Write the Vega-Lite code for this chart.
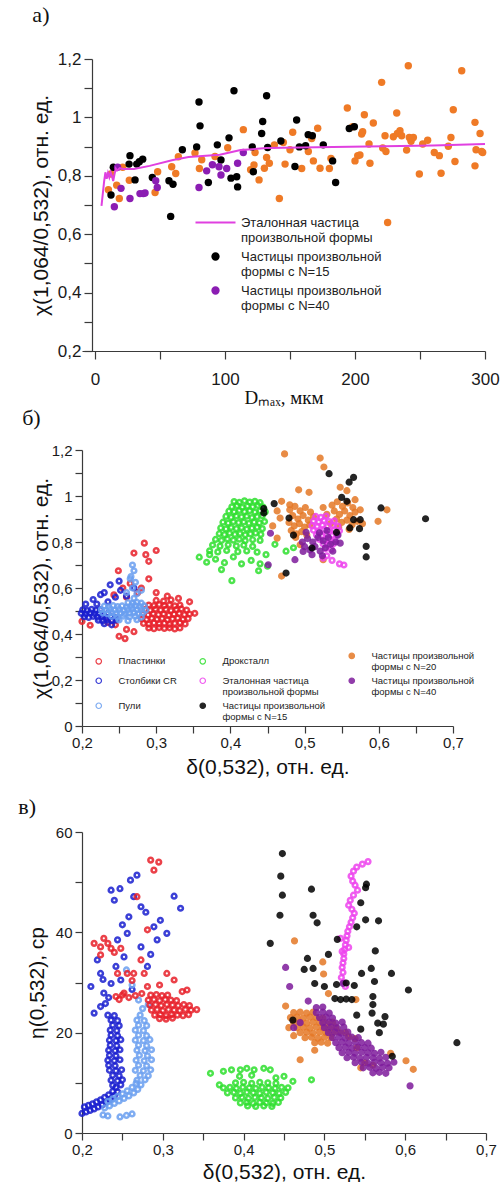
{
"$schema":"https://vega.github.io/schema/vega-lite/v6.json",
"background":"white",
"padding":{"left":18,"top":4,"right":0,"bottom":0},
"spacing":0,
"columns":1,
"config":{"view":{"stroke":null},"axis":{"grid":false,"domainColor":"#3a3a3a","tickColor":"#3a3a3a","labelColor":"#1a1a1a","titleColor":"#111111","labelFont":"Liberation Sans","titleFont":"Liberation Sans","titleFontWeight":"normal","domainWidth":1.2,"tickWidth":1.2,"labelOverlap":false,"labelFlush":false},"title":{"font":"Liberation Serif","fontSize":22,"fontWeight":"normal","anchor":"start","frame":"bounds","color":"#111111"},"legend":{"labelFont":"Liberation Sans","labelColor":"#222222"}},
"resolve":{"scale":{"color":"independent","fill":"independent","stroke":"independent","x":"independent","y":"independent"},"legend":{"color":"independent","fill":"independent","stroke":"independent"}},
"datasets":{
"a_line":[
{"series":"ref","dmax":5,"chi":0.697},{"series":"ref","dmax":7,"chi":0.78},{"series":"ref","dmax":8,"chi":0.812},{"series":"ref","dmax":9,"chi":0.79},{"series":"ref","dmax":10,"chi":0.81},{"series":"ref","dmax":11,"chi":0.795},{"series":"ref","dmax":12,"chi":0.812},{"series":"ref","dmax":13,"chi":0.8},{"series":"ref","dmax":14,"chi":0.782},{"series":"ref","dmax":15,"chi":0.805},{"series":"ref","dmax":16,"chi":0.825},{"series":"ref","dmax":17,"chi":0.818},{"series":"ref","dmax":19,"chi":0.826},{"series":"ref","dmax":22,"chi":0.823},{"series":"ref","dmax":30,"chi":0.823},{"series":"ref","dmax":42,"chi":0.834},{"series":"ref","dmax":60,"chi":0.854},{"series":"ref","dmax":72,"chi":0.864},{"series":"ref","dmax":96,"chi":0.872},{"series":"ref","dmax":112,"chi":0.888},{"series":"ref","dmax":132,"chi":0.895},{"series":"ref","dmax":158,"chi":0.897},{"series":"ref","dmax":183,"chi":0.899},{"series":"ref","dmax":209,"chi":0.9},{"series":"ref","dmax":235,"chi":0.902},{"series":"ref","dmax":260,"chi":0.904},{"series":"ref","dmax":300,"chi":0.909}
],
"a_pts":[
{"series":"N20","dmax":10.3,"chi":0.752},{"series":"N20","dmax":12.3,"chi":0.806},{"series":"N20","dmax":16.7,"chi":0.768},{"series":"N20","dmax":18.7,"chi":0.722},{"series":"N20","dmax":21.3,"chi":0.829},{"series":"N20","dmax":26.4,"chi":0.785},{"series":"N20","dmax":46.2,"chi":0.743},{"series":"N20","dmax":48.2,"chi":0.814},{"series":"N20","dmax":59,"chi":0.831},{"series":"N20","dmax":62.1,"chi":0.808},{"series":"N20","dmax":64.1,"chi":0.865},{"series":"N20","dmax":76.9,"chi":0.878},{"series":"N20","dmax":80.3,"chi":0.825},{"series":"N20","dmax":82.1,"chi":0.855},{"series":"N20","dmax":92.3,"chi":0.866},{"series":"N20","dmax":102.1,"chi":0.896},{"series":"N20","dmax":114.1,"chi":0.958},{"series":"N20","dmax":119.7,"chi":0.821},{"series":"N20","dmax":122.3,"chi":0.837},{"series":"N20","dmax":123.1,"chi":0.88},{"series":"N20","dmax":126.2,"chi":0.786},{"series":"N20","dmax":130.3,"chi":0.826},{"series":"N20","dmax":132,"chi":0.863},{"series":"N20","dmax":134.1,"chi":0.843},{"series":"N20","dmax":138,"chi":0.906},{"series":"N20","dmax":141.8,"chi":0.722},{"series":"N20","dmax":144.9,"chi":0.914},{"series":"N20","dmax":146.2,"chi":0.84},{"series":"N20","dmax":150,"chi":0.889},{"series":"N20","dmax":152.1,"chi":0.949},{"series":"N20","dmax":159,"chi":0.825},{"series":"N20","dmax":164.1,"chi":0.883},{"series":"N20","dmax":166.7,"chi":0.928},{"series":"N20","dmax":168,"chi":0.851},{"series":"N20","dmax":171.3,"chi":0.963},{"series":"N20","dmax":173.1,"chi":0.826},{"series":"N20","dmax":180.3,"chi":0.825},{"series":"N20","dmax":181.5,"chi":0.859},{"series":"N20","dmax":194.1,"chi":1.032},{"series":"N20","dmax":198.2,"chi":0.968},{"series":"N20","dmax":200,"chi":0.851},{"series":"N20","dmax":202.1,"chi":0.869},{"series":"N20","dmax":203.8,"chi":0.871},{"series":"N20","dmax":205.1,"chi":0.943},{"series":"N20","dmax":205.9,"chi":0.951},{"series":"N20","dmax":207.2,"chi":1.009},{"series":"N20","dmax":210.8,"chi":0.909},{"series":"N20","dmax":211.5,"chi":0.843},{"series":"N20","dmax":214.1,"chi":0.981},{"series":"N20","dmax":220.5,"chi":1.12},{"series":"N20","dmax":221.3,"chi":0.895},{"series":"N20","dmax":223.1,"chi":0.937},{"series":"N20","dmax":223.8,"chi":0.883},{"series":"N20","dmax":225.1,"chi":0.64},{"series":"N20","dmax":229.5,"chi":0.934},{"series":"N20","dmax":232.1,"chi":1.015},{"series":"N20","dmax":232.6,"chi":0.945},{"series":"N20","dmax":234.6,"chi":0.954},{"series":"N20","dmax":235.9,"chi":0.937},{"series":"N20","dmax":239.7,"chi":0.888},{"series":"N20","dmax":241,"chi":1.177},{"series":"N20","dmax":241.8,"chi":0.931},{"series":"N20","dmax":243.1,"chi":0.918},{"series":"N20","dmax":244.9,"chi":0.931},{"series":"N20","dmax":249.5,"chi":0.806},{"series":"N20","dmax":252.1,"chi":0.909},{"series":"N20","dmax":255.9,"chi":0.922},{"series":"N20","dmax":261,"chi":0.88},{"series":"N20","dmax":264.9,"chi":0.869},{"series":"N20","dmax":266.2,"chi":0.809},{"series":"N20","dmax":271.8,"chi":0.901},{"series":"N20","dmax":273.8,"chi":0.931},{"series":"N20","dmax":275.6,"chi":1.026},{"series":"N20","dmax":276.9,"chi":0.849},{"series":"N20","dmax":282.1,"chi":1.16},{"series":"N20","dmax":292.3,"chi":0.834},{"series":"N20","dmax":292.3,"chi":0.983},{"series":"N20","dmax":293.1,"chi":0.889},{"series":"N20","dmax":296.2,"chi":0.945},{"series":"N20","dmax":297.4,"chi":0.883},{"series":"N20","dmax":298.2,"chi":0.88},
{"series":"N15","dmax":12.3,"chi":0.734},{"series":"N15","dmax":14.1,"chi":0.829},{"series":"N15","dmax":26.2,"chi":0.84},{"series":"N15","dmax":26.9,"chi":0.869},{"series":"N15","dmax":30.8,"chi":0.786},{"series":"N15","dmax":32.1,"chi":0.84},{"series":"N15","dmax":34.1,"chi":0.848},{"series":"N15","dmax":36.7,"chi":0.857},{"series":"N15","dmax":44.1,"chi":0.794},{"series":"N15","dmax":56.9,"chi":0.783},{"series":"N15","dmax":58.2,"chi":0.661},{"series":"N15","dmax":60,"chi":0.771},{"series":"N15","dmax":67.2,"chi":0.889},{"series":"N15","dmax":78.2,"chi":0.899},{"series":"N15","dmax":80,"chi":1.053},{"series":"N15","dmax":80.8,"chi":0.971},{"series":"N15","dmax":87.2,"chi":0.777},{"series":"N15","dmax":94.1,"chi":0.906},{"series":"N15","dmax":96.9,"chi":0.854},{"series":"N15","dmax":103.1,"chi":0.93},{"series":"N15","dmax":104.6,"chi":0.792},{"series":"N15","dmax":106.9,"chi":1.091},{"series":"N15","dmax":109,"chi":0.797},{"series":"N15","dmax":109.7,"chi":0.762},{"series":"N15","dmax":121,"chi":0.899},{"series":"N15","dmax":121.8,"chi":0.814},{"series":"N15","dmax":128.2,"chi":0.945},{"series":"N15","dmax":129,"chi":0.986},{"series":"N15","dmax":132,"chi":1.074},{"series":"N15","dmax":132.8,"chi":0.897},{"series":"N15","dmax":143,"chi":0.919},{"series":"N15","dmax":153.8,"chi":0.832},{"series":"N15","dmax":155.1,"chi":0.991},{"series":"N15","dmax":157.2,"chi":0.899},{"series":"N15","dmax":162,"chi":0.903},{"series":"N15","dmax":164,"chi":0.941},{"series":"N15","dmax":167.2,"chi":0.937},{"series":"N15","dmax":175.6,"chi":0.906},{"series":"N15","dmax":182.8,"chi":0.851},{"series":"N15","dmax":185.1,"chi":0.777},{"series":"N15","dmax":195.6,"chi":0.962},{"series":"N15","dmax":199.5,"chi":0.968},
{"series":"N40","dmax":14.9,"chi":0.694},{"series":"N40","dmax":17.4,"chi":0.829},{"series":"N40","dmax":20,"chi":0.757},{"series":"N40","dmax":26.9,"chi":0.722},{"series":"N40","dmax":34.6,"chi":0.739},{"series":"N40","dmax":37.2,"chi":0.739},{"series":"N40","dmax":38.5,"chi":0.741},{"series":"N40","dmax":46.7,"chi":0.783},{"series":"N40","dmax":47.9,"chi":0.76},{"series":"N40","dmax":80,"chi":0.76},{"series":"N40","dmax":85.9,"chi":0.817},{"series":"N40","dmax":90.3,"chi":0.838},{"series":"N40","dmax":95.4,"chi":0.831},{"series":"N40","dmax":96.9,"chi":0.803},{"series":"N40","dmax":101.3,"chi":0.825},{"series":"N40","dmax":109.7,"chi":0.843},{"series":"N40","dmax":114.1,"chi":0.88}
],
"b_pts":[
{"series":"droxtal","delta":0.405,"chi":0.976},{"series":"droxtal","delta":0.412,"chi":0.972},{"series":"droxtal","delta":0.419,"chi":0.979},{"series":"droxtal","delta":0.426,"chi":0.974},{"series":"droxtal","delta":0.433,"chi":0.977},{"series":"droxtal","delta":0.44,"chi":0.971},
{"series":"droxtal","delta":0.402,"chi":0.953},{"series":"droxtal","delta":0.409,"chi":0.958},{"series":"droxtal","delta":0.416,"chi":0.951},{"series":"droxtal","delta":0.423,"chi":0.956},{"series":"droxtal","delta":0.43,"chi":0.953},{"series":"droxtal","delta":0.437,"chi":0.959},{"series":"droxtal","delta":0.444,"chi":0.952},
{"series":"droxtal","delta":0.398,"chi":0.934},{"series":"droxtal","delta":0.405,"chi":0.931},{"series":"droxtal","delta":0.412,"chi":0.937},{"series":"droxtal","delta":0.419,"chi":0.932},{"series":"droxtal","delta":0.426,"chi":0.936},{"series":"droxtal","delta":0.433,"chi":0.93},{"series":"droxtal","delta":0.44,"chi":0.935},{"series":"droxtal","delta":0.447,"chi":0.931},
{"series":"droxtal","delta":0.394,"chi":0.911},{"series":"droxtal","delta":0.401,"chi":0.907},{"series":"droxtal","delta":0.408,"chi":0.913},{"series":"droxtal","delta":0.415,"chi":0.909},{"series":"droxtal","delta":0.422,"chi":0.912},{"series":"droxtal","delta":0.429,"chi":0.906},{"series":"droxtal","delta":0.436,"chi":0.91},{"series":"droxtal","delta":0.443,"chi":0.914},
{"series":"droxtal","delta":0.39,"chi":0.886},{"series":"droxtal","delta":0.397,"chi":0.882},{"series":"droxtal","delta":0.404,"chi":0.888},{"series":"droxtal","delta":0.411,"chi":0.884},{"series":"droxtal","delta":0.418,"chi":0.887},{"series":"droxtal","delta":0.425,"chi":0.881},{"series":"droxtal","delta":0.432,"chi":0.886},{"series":"droxtal","delta":0.439,"chi":0.883},{"series":"droxtal","delta":0.446,"chi":0.889},
{"series":"droxtal","delta":0.387,"chi":0.861},{"series":"droxtal","delta":0.394,"chi":0.857},{"series":"droxtal","delta":0.401,"chi":0.863},{"series":"droxtal","delta":0.408,"chi":0.858},{"series":"droxtal","delta":0.415,"chi":0.862},{"series":"droxtal","delta":0.422,"chi":0.856},{"series":"droxtal","delta":0.429,"chi":0.86},{"series":"droxtal","delta":0.436,"chi":0.864},{"series":"droxtal","delta":0.443,"chi":0.858},
{"series":"droxtal","delta":0.385,"chi":0.836},{"series":"droxtal","delta":0.392,"chi":0.832},{"series":"droxtal","delta":0.399,"chi":0.838},{"series":"droxtal","delta":0.406,"chi":0.833},{"series":"droxtal","delta":0.413,"chi":0.837},{"series":"droxtal","delta":0.42,"chi":0.831},{"series":"droxtal","delta":0.427,"chi":0.835},{"series":"droxtal","delta":0.434,"chi":0.839},{"series":"droxtal","delta":0.441,"chi":0.833},
{"series":"droxtal","delta":0.38,"chi":0.811},{"series":"droxtal","delta":0.388,"chi":0.807},{"series":"droxtal","delta":0.396,"chi":0.813},{"series":"droxtal","delta":0.404,"chi":0.808},{"series":"droxtal","delta":0.412,"chi":0.812},{"series":"droxtal","delta":0.42,"chi":0.806},{"series":"droxtal","delta":0.43,"chi":0.81},{"series":"droxtal","delta":0.44,"chi":0.807},
{"series":"droxtal","delta":0.376,"chi":0.787},{"series":"droxtal","delta":0.386,"chi":0.782},{"series":"droxtal","delta":0.397,"chi":0.788},{"series":"droxtal","delta":0.408,"chi":0.783},{"series":"droxtal","delta":0.418,"chi":0.786},{"series":"droxtal","delta":0.43,"chi":0.781},
{"series":"droxtal","delta":0.372,"chi":0.762},{"series":"droxtal","delta":0.383,"chi":0.757},{"series":"droxtal","delta":0.395,"chi":0.763},{"series":"droxtal","delta":0.41,"chi":0.758},{"series":"droxtal","delta":0.422,"chi":0.761},{"series":"droxtal","delta":0.436,"chi":0.756},
{"series":"droxtal","delta":0.358,"chi":0.734},{"series":"droxtal","delta":0.368,"chi":0.712},{"series":"droxtal","delta":0.38,"chi":0.725},{"series":"droxtal","delta":0.392,"chi":0.71},{"series":"droxtal","delta":0.404,"chi":0.735},{"series":"droxtal","delta":0.415,"chi":0.705},{"series":"droxtal","delta":0.428,"chi":0.72},{"series":"droxtal","delta":0.44,"chi":0.705},{"series":"droxtal","delta":0.45,"chi":0.695},{"series":"droxtal","delta":0.402,"chi":0.632},{"series":"droxtal","delta":0.388,"chi":0.68},{"series":"droxtal","delta":0.372,"chi":0.745},{"series":"droxtal","delta":0.46,"chi":0.79},{"series":"droxtal","delta":0.475,"chi":0.76},{"series":"droxtal","delta":0.485,"chi":0.775},{"series":"droxtal","delta":0.448,"chi":0.745},{"series":"droxtal","delta":0.438,"chi":0.675},
{"series":"plate","delta":0.29,"chi":0.426},{"series":"plate","delta":0.297,"chi":0.423},{"series":"plate","delta":0.304,"chi":0.428},{"series":"plate","delta":0.311,"chi":0.424},{"series":"plate","delta":0.318,"chi":0.427},{"series":"plate","delta":0.325,"chi":0.422},{"series":"plate","delta":0.332,"chi":0.426},
{"series":"plate","delta":0.283,"chi":0.446},{"series":"plate","delta":0.29,"chi":0.443},{"series":"plate","delta":0.297,"chi":0.448},{"series":"plate","delta":0.304,"chi":0.444},{"series":"plate","delta":0.311,"chi":0.447},{"series":"plate","delta":0.318,"chi":0.442},{"series":"plate","delta":0.325,"chi":0.446},{"series":"plate","delta":0.332,"chi":0.449},{"series":"plate","delta":0.339,"chi":0.444},
{"series":"plate","delta":0.28,"chi":0.466},{"series":"plate","delta":0.287,"chi":0.463},{"series":"plate","delta":0.294,"chi":0.468},{"series":"plate","delta":0.301,"chi":0.464},{"series":"plate","delta":0.308,"chi":0.467},{"series":"plate","delta":0.315,"chi":0.462},{"series":"plate","delta":0.322,"chi":0.466},{"series":"plate","delta":0.329,"chi":0.469},{"series":"plate","delta":0.336,"chi":0.464},{"series":"plate","delta":0.343,"chi":0.467},
{"series":"plate","delta":0.282,"chi":0.486},{"series":"plate","delta":0.289,"chi":0.483},{"series":"plate","delta":0.296,"chi":0.488},{"series":"plate","delta":0.303,"chi":0.484},{"series":"plate","delta":0.31,"chi":0.487},{"series":"plate","delta":0.317,"chi":0.482},{"series":"plate","delta":0.324,"chi":0.486},{"series":"plate","delta":0.331,"chi":0.489},{"series":"plate","delta":0.338,"chi":0.484},{"series":"plate","delta":0.345,"chi":0.487},
{"series":"plate","delta":0.285,"chi":0.506},{"series":"plate","delta":0.292,"chi":0.503},{"series":"plate","delta":0.299,"chi":0.508},{"series":"plate","delta":0.306,"chi":0.504},{"series":"plate","delta":0.313,"chi":0.507},{"series":"plate","delta":0.32,"chi":0.502},{"series":"plate","delta":0.327,"chi":0.506},{"series":"plate","delta":0.334,"chi":0.509},{"series":"plate","delta":0.341,"chi":0.504},
{"series":"plate","delta":0.29,"chi":0.526},{"series":"plate","delta":0.297,"chi":0.523},{"series":"plate","delta":0.304,"chi":0.528},{"series":"plate","delta":0.311,"chi":0.524},{"series":"plate","delta":0.318,"chi":0.527},{"series":"plate","delta":0.325,"chi":0.522},{"series":"plate","delta":0.332,"chi":0.526},
{"series":"plate","delta":0.3,"chi":0.546},{"series":"plate","delta":0.31,"chi":0.543},{"series":"plate","delta":0.32,"chi":0.548},
{"series":"plate","delta":0.284,"chi":0.795},{"series":"plate","delta":0.27,"chi":0.752},{"series":"plate","delta":0.286,"chi":0.745},{"series":"plate","delta":0.3,"chi":0.763},{"series":"plate","delta":0.29,"chi":0.716},{"series":"plate","delta":0.249,"chi":0.675},{"series":"plate","delta":0.25,"chi":0.39},{"series":"plate","delta":0.258,"chi":0.38},{"series":"plate","delta":0.2,"chi":0.455},{"series":"plate","delta":0.211,"chi":0.438},{"series":"plate","delta":0.265,"chi":0.62},{"series":"plate","delta":0.28,"chi":0.6},{"series":"plate","delta":0.275,"chi":0.58},{"series":"plate","delta":0.255,"chi":0.6},{"series":"plate","delta":0.3,"chi":0.58},{"series":"plate","delta":0.315,"chi":0.565},{"series":"plate","delta":0.33,"chi":0.555},{"series":"plate","delta":0.345,"chi":0.54},{"series":"plate","delta":0.352,"chi":0.49},{"series":"plate","delta":0.26,"chi":0.42},{"series":"plate","delta":0.27,"chi":0.41},{"series":"plate","delta":0.245,"chi":0.44},{"series":"plate","delta":0.235,"chi":0.45},{"series":"plate","delta":0.29,"chi":0.64},{"series":"plate","delta":0.243,"chi":0.57},{"series":"plate","delta":0.26,"chi":0.56},
{"series":"column","delta":0.201,"chi":0.505},{"series":"column","delta":0.207,"chi":0.502},{"series":"column","delta":0.213,"chi":0.507},{"series":"column","delta":0.219,"chi":0.503},{"series":"column","delta":0.225,"chi":0.506},
{"series":"column","delta":0.199,"chi":0.49},{"series":"column","delta":0.205,"chi":0.487},{"series":"column","delta":0.211,"chi":0.492},{"series":"column","delta":0.217,"chi":0.488},{"series":"column","delta":0.223,"chi":0.491},{"series":"column","delta":0.229,"chi":0.486},{"series":"column","delta":0.235,"chi":0.49},
{"series":"column","delta":0.203,"chi":0.475},{"series":"column","delta":0.209,"chi":0.472},{"series":"column","delta":0.215,"chi":0.477},{"series":"column","delta":0.221,"chi":0.473},{"series":"column","delta":0.227,"chi":0.476},{"series":"column","delta":0.233,"chi":0.471},{"series":"column","delta":0.239,"chi":0.475},{"series":"column","delta":0.245,"chi":0.472},
{"series":"column","delta":0.222,"chi":0.46},{"series":"column","delta":0.228,"chi":0.457},{"series":"column","delta":0.234,"chi":0.462},{"series":"column","delta":0.24,"chi":0.458},{"series":"column","delta":0.246,"chi":0.461},
{"series":"column","delta":0.225,"chi":0.571},{"series":"column","delta":0.238,"chi":0.614},{"series":"column","delta":0.23,"chi":0.58},{"series":"column","delta":0.245,"chi":0.56},{"series":"column","delta":0.252,"chi":0.59},{"series":"column","delta":0.26,"chi":0.565},{"series":"column","delta":0.215,"chi":0.55},{"series":"column","delta":0.22,"chi":0.53},{"series":"column","delta":0.235,"chi":0.54},{"series":"column","delta":0.27,"chi":0.6},{"series":"column","delta":0.25,"chi":0.63},{"series":"column","delta":0.205,"chi":0.53},{"series":"column","delta":0.24,"chi":0.44},{"series":"column","delta":0.23,"chi":0.445},
{"series":"bullet","delta":0.262,"chi":0.536},{"series":"bullet","delta":0.268,"chi":0.533},{"series":"bullet","delta":0.274,"chi":0.538},{"series":"bullet","delta":0.28,"chi":0.534},
{"series":"bullet","delta":0.23,"chi":0.521},{"series":"bullet","delta":0.236,"chi":0.518},{"series":"bullet","delta":0.242,"chi":0.523},{"series":"bullet","delta":0.248,"chi":0.519},{"series":"bullet","delta":0.254,"chi":0.522},{"series":"bullet","delta":0.26,"chi":0.517},{"series":"bullet","delta":0.266,"chi":0.521},{"series":"bullet","delta":0.272,"chi":0.524},{"series":"bullet","delta":0.278,"chi":0.519},{"series":"bullet","delta":0.284,"chi":0.522},
{"series":"bullet","delta":0.226,"chi":0.506},{"series":"bullet","delta":0.232,"chi":0.503},{"series":"bullet","delta":0.238,"chi":0.508},{"series":"bullet","delta":0.244,"chi":0.504},{"series":"bullet","delta":0.25,"chi":0.507},{"series":"bullet","delta":0.256,"chi":0.502},{"series":"bullet","delta":0.262,"chi":0.506},{"series":"bullet","delta":0.268,"chi":0.509},{"series":"bullet","delta":0.274,"chi":0.504},{"series":"bullet","delta":0.28,"chi":0.507},{"series":"bullet","delta":0.286,"chi":0.503},
{"series":"bullet","delta":0.228,"chi":0.491},{"series":"bullet","delta":0.234,"chi":0.488},{"series":"bullet","delta":0.24,"chi":0.493},{"series":"bullet","delta":0.246,"chi":0.489},{"series":"bullet","delta":0.252,"chi":0.492},{"series":"bullet","delta":0.258,"chi":0.487},{"series":"bullet","delta":0.264,"chi":0.491},{"series":"bullet","delta":0.27,"chi":0.494},{"series":"bullet","delta":0.276,"chi":0.489},{"series":"bullet","delta":0.282,"chi":0.492},
{"series":"bullet","delta":0.24,"chi":0.476},{"series":"bullet","delta":0.248,"chi":0.473},{"series":"bullet","delta":0.256,"chi":0.478},{"series":"bullet","delta":0.264,"chi":0.474},{"series":"bullet","delta":0.272,"chi":0.477},{"series":"bullet","delta":0.28,"chi":0.473},
{"series":"bullet","delta":0.25,"chi":0.461},{"series":"bullet","delta":0.262,"chi":0.458},{"series":"bullet","delta":0.274,"chi":0.462},
{"series":"bullet","delta":0.27,"chi":0.555},{"series":"bullet","delta":0.274,"chi":0.575},{"series":"bullet","delta":0.268,"chi":0.6},{"series":"bullet","delta":0.272,"chi":0.625},{"series":"bullet","delta":0.266,"chi":0.65},{"series":"bullet","delta":0.27,"chi":0.675},{"series":"bullet","delta":0.268,"chi":0.7},{"series":"bullet","delta":0.265,"chi":0.64},{"series":"bullet","delta":0.28,"chi":0.59},{"series":"bullet","delta":0.26,"chi":0.58},
{"series":"N20","delta":0.473,"chi":1.183},{"series":"N20","delta":0.521,"chi":1.165},{"series":"N20","delta":0.526,"chi":1.126},{"series":"N20","delta":0.492,"chi":1.027},{"series":"N20","delta":0.506,"chi":1.016},{"series":"N20","delta":0.548,"chi":1.038},{"series":"N20","delta":0.557,"chi":1.023},{"series":"N20","delta":0.568,"chi":0.984},{"series":"N20","delta":0.469,"chi":0.977},{"series":"N20","delta":0.463,"chi":0.935},{"series":"N20","delta":0.467,"chi":0.904},{"series":"N20","delta":0.611,"chi":0.94},{"series":"N20","delta":0.599,"chi":0.89},{"series":"N20","delta":0.48,"chi":0.962},{"series":"N20","delta":0.457,"chi":0.87},{"series":"N20","delta":0.463,"chi":0.817},{"series":"N20","delta":0.469,"chi":0.652},{"series":"N20","delta":0.525,"chi":0.723},{"series":"N20","delta":0.494,"chi":0.788},{"series":"N20","delta":0.578,"chi":0.88},{"series":"N20","delta":0.575,"chi":0.94},
{"series":"N20","delta":0.48,"chi":0.94},{"series":"N20","delta":0.487,"chi":0.955},{"series":"N20","delta":0.494,"chi":0.935},{"series":"N20","delta":0.501,"chi":0.95},{"series":"N20","delta":0.508,"chi":0.93},{"series":"N20","delta":0.484,"chi":0.915},{"series":"N20","delta":0.491,"chi":0.9},{"series":"N20","delta":0.498,"chi":0.915},{"series":"N20","delta":0.505,"chi":0.895},{"series":"N20","delta":0.512,"chi":0.91},{"series":"N20","delta":0.479,"chi":0.885},{"series":"N20","delta":0.486,"chi":0.87},{"series":"N20","delta":0.493,"chi":0.88},{"series":"N20","delta":0.5,"chi":0.865},{"series":"N20","delta":0.507,"chi":0.875},{"series":"N20","delta":0.482,"chi":0.85},{"series":"N20","delta":0.489,"chi":0.835},{"series":"N20","delta":0.496,"chi":0.845},{"series":"N20","delta":0.503,"chi":0.83},{"series":"N20","delta":0.488,"chi":0.82},
{"series":"N20","delta":0.537,"chi":0.96},{"series":"N20","delta":0.544,"chi":0.975},{"series":"N20","delta":0.551,"chi":0.955},{"series":"N20","delta":0.558,"chi":0.97},{"series":"N20","delta":0.565,"chi":0.95},{"series":"N20","delta":0.54,"chi":0.935},{"series":"N20","delta":0.547,"chi":0.92},{"series":"N20","delta":0.554,"chi":0.935},{"series":"N20","delta":0.561,"chi":0.915},{"series":"N20","delta":0.568,"chi":0.93},{"series":"N20","delta":0.543,"chi":0.9},{"series":"N20","delta":0.55,"chi":0.885},{"series":"N20","delta":0.557,"chi":0.895},{"series":"N20","delta":0.564,"chi":0.875},{"series":"N20","delta":0.571,"chi":0.89},{"series":"N20","delta":0.546,"chi":0.865},{"series":"N20","delta":0.56,"chi":0.855},{"series":"N20","delta":0.535,"chi":0.88},{"series":"N20","delta":0.525,"chi":0.95},{"series":"N20","delta":0.53,"chi":0.92},
{"series":"ref","delta":0.515,"chi":0.911},{"series":"ref","delta":0.522,"chi":0.907},{"series":"ref","delta":0.529,"chi":0.913},
{"series":"ref","delta":0.512,"chi":0.891},{"series":"ref","delta":0.519,"chi":0.887},{"series":"ref","delta":0.526,"chi":0.893},{"series":"ref","delta":0.533,"chi":0.889},{"series":"ref","delta":0.54,"chi":0.892},
{"series":"ref","delta":0.51,"chi":0.871},{"series":"ref","delta":0.517,"chi":0.867},{"series":"ref","delta":0.524,"chi":0.873},{"series":"ref","delta":0.531,"chi":0.868},{"series":"ref","delta":0.538,"chi":0.872},{"series":"ref","delta":0.545,"chi":0.869},
{"series":"ref","delta":0.512,"chi":0.851},{"series":"ref","delta":0.519,"chi":0.847},{"series":"ref","delta":0.526,"chi":0.853},{"series":"ref","delta":0.533,"chi":0.848},{"series":"ref","delta":0.54,"chi":0.852},{"series":"ref","delta":0.547,"chi":0.849},
{"series":"ref","delta":0.516,"chi":0.831},{"series":"ref","delta":0.523,"chi":0.827},{"series":"ref","delta":0.53,"chi":0.833},{"series":"ref","delta":0.537,"chi":0.828},{"series":"ref","delta":0.544,"chi":0.832},
{"series":"ref","delta":0.52,"chi":0.811},{"series":"ref","delta":0.527,"chi":0.807},{"series":"ref","delta":0.534,"chi":0.813},{"series":"ref","delta":0.541,"chi":0.808},
{"series":"ref","delta":0.525,"chi":0.791},{"series":"ref","delta":0.532,"chi":0.787},{"series":"ref","delta":0.539,"chi":0.793},
{"series":"ref","delta":0.528,"chi":0.771},{"series":"ref","delta":0.536,"chi":0.768},
{"series":"ref","delta":0.53,"chi":0.74},{"series":"ref","delta":0.537,"chi":0.72},{"series":"ref","delta":0.547,"chi":0.705},{"series":"ref","delta":0.553,"chi":0.7},{"series":"ref","delta":0.525,"chi":0.73},
{"series":"N40","delta":0.497,"chi":0.8},{"series":"N40","delta":0.504,"chi":0.815},{"series":"N40","delta":0.511,"chi":0.8},{"series":"N40","delta":0.518,"chi":0.82},{"series":"N40","delta":0.525,"chi":0.805},{"series":"N40","delta":0.532,"chi":0.82},{"series":"N40","delta":0.5,"chi":0.78},{"series":"N40","delta":0.507,"chi":0.765},{"series":"N40","delta":0.514,"chi":0.78},{"series":"N40","delta":0.521,"chi":0.76},{"series":"N40","delta":0.528,"chi":0.775},{"series":"N40","delta":0.535,"chi":0.79},{"series":"N40","delta":0.542,"chi":0.8},{"series":"N40","delta":0.51,"chi":0.745},{"series":"N40","delta":0.524,"chi":0.74},{"series":"N40","delta":0.538,"chi":0.76},{"series":"N40","delta":0.53,"chi":0.85},{"series":"N40","delta":0.52,"chi":0.84},{"series":"N40","delta":0.454,"chi":0.838},{"series":"N40","delta":0.451,"chi":0.701},{"series":"N40","delta":0.487,"chi":0.723},{"series":"N40","delta":0.498,"chi":0.759},{"series":"N40","delta":0.548,"chi":0.795},{"series":"N40","delta":0.545,"chi":0.83},{"series":"N40","delta":0.502,"chi":0.842},
{"series":"N15","delta":0.533,"chi":1.097},{"series":"N15","delta":0.566,"chi":1.081},{"series":"N15","delta":0.56,"chi":1.06},{"series":"N15","delta":0.55,"chi":0.994},{"series":"N15","delta":0.557,"chi":0.977},{"series":"N15","delta":0.459,"chi":0.967},{"series":"N15","delta":0.445,"chi":0.945},{"series":"N15","delta":0.445,"chi":0.926},{"series":"N15","delta":0.479,"chi":0.904},{"series":"N15","delta":0.566,"chi":0.897},{"series":"N15","delta":0.575,"chi":0.897},{"series":"N15","delta":0.603,"chi":0.948},{"series":"N15","delta":0.663,"chi":0.901},{"series":"N15","delta":0.561,"chi":0.861},{"series":"N15","delta":0.574,"chi":0.858},{"series":"N15","delta":0.543,"chi":0.842},{"series":"N15","delta":0.51,"chi":0.774},{"series":"N15","delta":0.583,"chi":0.781},{"series":"N15","delta":0.583,"chi":0.735},{"series":"N15","delta":0.475,"chi":0.665},{"series":"N15","delta":0.485,"chi":0.83}
],
"c_pts":[
{"series":"droxtal","delta":0.39,"eta":10.0},{"series":"droxtal","delta":0.4,"eta":10.1},{"series":"droxtal","delta":0.41,"eta":9.9},{"series":"droxtal","delta":0.42,"eta":10.1},{"series":"droxtal","delta":0.43,"eta":10.0},{"series":"droxtal","delta":0.44,"eta":9.9},
{"series":"droxtal","delta":0.375,"eta":9.0},{"series":"droxtal","delta":0.383,"eta":9.1},{"series":"droxtal","delta":0.391,"eta":8.9},{"series":"droxtal","delta":0.399,"eta":9.1},{"series":"droxtal","delta":0.407,"eta":9.0},{"series":"droxtal","delta":0.415,"eta":8.9},{"series":"droxtal","delta":0.423,"eta":9.1},{"series":"droxtal","delta":0.431,"eta":9.0},{"series":"droxtal","delta":0.439,"eta":8.9},{"series":"droxtal","delta":0.447,"eta":9.1},{"series":"droxtal","delta":0.455,"eta":9.0},
{"series":"droxtal","delta":0.38,"eta":8.0},{"series":"droxtal","delta":0.388,"eta":8.1},{"series":"droxtal","delta":0.396,"eta":7.9},{"series":"droxtal","delta":0.404,"eta":8.1},{"series":"droxtal","delta":0.412,"eta":8.0},{"series":"droxtal","delta":0.42,"eta":7.9},{"series":"droxtal","delta":0.428,"eta":8.1},{"series":"droxtal","delta":0.436,"eta":8.0},{"series":"droxtal","delta":0.444,"eta":7.9},{"series":"droxtal","delta":0.452,"eta":8.1},
{"series":"droxtal","delta":0.39,"eta":7.0},{"series":"droxtal","delta":0.398,"eta":7.1},{"series":"droxtal","delta":0.406,"eta":6.9},{"series":"droxtal","delta":0.414,"eta":7.1},{"series":"droxtal","delta":0.422,"eta":7.0},{"series":"droxtal","delta":0.43,"eta":6.9},{"series":"droxtal","delta":0.438,"eta":7.1},{"series":"droxtal","delta":0.446,"eta":7.0},
{"series":"droxtal","delta":0.396,"eta":6.0},{"series":"droxtal","delta":0.404,"eta":6.1},{"series":"droxtal","delta":0.412,"eta":5.9},{"series":"droxtal","delta":0.42,"eta":6.1},{"series":"droxtal","delta":0.428,"eta":6.0},{"series":"droxtal","delta":0.436,"eta":5.9},{"series":"droxtal","delta":0.443,"eta":6.1},
{"series":"droxtal","delta":0.405,"eta":5.4},{"series":"droxtal","delta":0.415,"eta":5.3},{"series":"droxtal","delta":0.425,"eta":5.4},{"series":"droxtal","delta":0.435,"eta":5.3},
{"series":"droxtal","delta":0.359,"eta":11.9},{"series":"droxtal","delta":0.375,"eta":12.3},{"series":"droxtal","delta":0.385,"eta":12.6},{"series":"droxtal","delta":0.396,"eta":12.6},{"series":"droxtal","delta":0.404,"eta":12.9},{"series":"droxtal","delta":0.413,"eta":12.6},{"series":"droxtal","delta":0.425,"eta":12.9},{"series":"droxtal","delta":0.433,"eta":12.6},{"series":"droxtal","delta":0.461,"eta":10.3},{"series":"droxtal","delta":0.484,"eta":10.6},{"series":"droxtal","delta":0.395,"eta":11.3},{"series":"droxtal","delta":0.41,"eta":11.5},{"series":"droxtal","delta":0.44,"eta":11.0},{"series":"droxtal","delta":0.45,"eta":11.3},{"series":"droxtal","delta":0.37,"eta":9.6},
{"series":"column","delta":0.2,"eta":3.9},{"series":"column","delta":0.205,"eta":4.2},{"series":"column","delta":0.21,"eta":4.5},{"series":"column","delta":0.215,"eta":4.8},{"series":"column","delta":0.22,"eta":5.2},{"series":"column","delta":0.225,"eta":5.6},{"series":"column","delta":0.23,"eta":6.1},{"series":"column","delta":0.235,"eta":6.7},{"series":"column","delta":0.24,"eta":7.4},{"series":"column","delta":0.244,"eta":8.2},
{"series":"column","delta":0.203,"eta":5.2},{"series":"column","delta":0.208,"eta":5.5},{"series":"column","delta":0.213,"eta":5.8},{"series":"column","delta":0.218,"eta":6.2},{"series":"column","delta":0.223,"eta":6.6},{"series":"column","delta":0.228,"eta":7.1},{"series":"column","delta":0.233,"eta":7.6},{"series":"column","delta":0.238,"eta":8.3},{"series":"column","delta":0.242,"eta":9.1},
{"series":"column","delta":0.238,"eta":9.5},{"series":"column","delta":0.248,"eta":9.6},{"series":"column","delta":0.236,"eta":10.5},{"series":"column","delta":0.244,"eta":10.4},{"series":"column","delta":0.25,"eta":10.6},{"series":"column","delta":0.238,"eta":11.5},{"series":"column","delta":0.246,"eta":11.4},{"series":"column","delta":0.234,"eta":12.5},{"series":"column","delta":0.242,"eta":12.4},{"series":"column","delta":0.249,"eta":12.6},{"series":"column","delta":0.233,"eta":13.5},{"series":"column","delta":0.241,"eta":13.4},{"series":"column","delta":0.232,"eta":14.5},{"series":"column","delta":0.24,"eta":14.4},{"series":"column","delta":0.247,"eta":14.6},{"series":"column","delta":0.234,"eta":15.5},{"series":"column","delta":0.242,"eta":15.4},{"series":"column","delta":0.233,"eta":16.5},{"series":"column","delta":0.241,"eta":16.4},{"series":"column","delta":0.247,"eta":16.6},{"series":"column","delta":0.235,"eta":17.5},{"series":"column","delta":0.243,"eta":17.4},{"series":"column","delta":0.234,"eta":18.5},{"series":"column","delta":0.242,"eta":18.4},{"series":"column","delta":0.248,"eta":18.6},{"series":"column","delta":0.236,"eta":19.5},{"series":"column","delta":0.244,"eta":19.4},{"series":"column","delta":0.235,"eta":20.5},{"series":"column","delta":0.243,"eta":20.4},{"series":"column","delta":0.238,"eta":21.5},{"series":"column","delta":0.246,"eta":21.4},{"series":"column","delta":0.236,"eta":22.5},{"series":"column","delta":0.244,"eta":22.4},{"series":"column","delta":0.232,"eta":23.5},{"series":"column","delta":0.24,"eta":23.4},
{"series":"column","delta":0.247,"eta":48.7},{"series":"column","delta":0.24,"eta":46.4},{"series":"column","delta":0.264,"eta":47.1},{"series":"column","delta":0.314,"eta":47.2},{"series":"column","delta":0.322,"eta":44.8},{"series":"column","delta":0.258,"eta":43.1},{"series":"column","delta":0.289,"eta":41.1},{"series":"column","delta":0.219,"eta":34.5},{"series":"column","delta":0.223,"eta":31.8},{"series":"column","delta":0.227,"eta":27.9},{"series":"column","delta":0.223,"eta":25.2},{"series":"column","delta":0.236,"eta":29.8},{"series":"column","delta":0.242,"eta":33.2},{"series":"column","delta":0.252,"eta":35.1},{"series":"column","delta":0.244,"eta":38.5},{"series":"column","delta":0.256,"eta":39.8},{"series":"column","delta":0.273,"eta":37.1},{"series":"column","delta":0.281,"eta":33.2},{"series":"column","delta":0.293,"eta":38.5},{"series":"column","delta":0.305,"eta":39.8},{"series":"column","delta":0.297,"eta":42.4},{"series":"column","delta":0.273,"eta":45.1},{"series":"column","delta":0.26,"eta":50.4},{"series":"column","delta":0.268,"eta":51.4},{"series":"column","delta":0.236,"eta":48.4},{"series":"column","delta":0.211,"eta":29.2},{"series":"column","delta":0.215,"eta":23.9},{"series":"column","delta":0.229,"eta":25.8},{"series":"column","delta":0.233,"eta":27.0},{"series":"column","delta":0.226,"eta":30.6},{"series":"column","delta":0.248,"eta":30.5},{"series":"column","delta":0.262,"eta":28.6},{"series":"column","delta":0.25,"eta":41.5},{"series":"column","delta":0.279,"eta":44.0},{"series":"column","delta":0.285,"eta":35.6},
{"series":"bullet","delta":0.228,"eta":5.0},{"series":"bullet","delta":0.234,"eta":5.4},{"series":"bullet","delta":0.24,"eta":5.9},{"series":"bullet","delta":0.246,"eta":6.4},{"series":"bullet","delta":0.252,"eta":6.9},{"series":"bullet","delta":0.258,"eta":7.4},{"series":"bullet","delta":0.264,"eta":8.0},{"series":"bullet","delta":0.269,"eta":8.7},{"series":"bullet","delta":0.273,"eta":9.6},
{"series":"bullet","delta":0.232,"eta":6.3},{"series":"bullet","delta":0.238,"eta":6.8},{"series":"bullet","delta":0.244,"eta":7.3},{"series":"bullet","delta":0.25,"eta":7.8},{"series":"bullet","delta":0.256,"eta":8.4},{"series":"bullet","delta":0.262,"eta":9.1},{"series":"bullet","delta":0.267,"eta":9.9},
{"series":"bullet","delta":0.268,"eta":10.5},{"series":"bullet","delta":0.278,"eta":10.6},{"series":"bullet","delta":0.272,"eta":11.5},{"series":"bullet","delta":0.282,"eta":11.4},{"series":"bullet","delta":0.266,"eta":12.5},{"series":"bullet","delta":0.276,"eta":12.4},{"series":"bullet","delta":0.285,"eta":12.6},{"series":"bullet","delta":0.27,"eta":13.5},{"series":"bullet","delta":0.28,"eta":13.4},{"series":"bullet","delta":0.267,"eta":14.5},{"series":"bullet","delta":0.277,"eta":14.4},{"series":"bullet","delta":0.286,"eta":14.6},{"series":"bullet","delta":0.271,"eta":15.5},{"series":"bullet","delta":0.281,"eta":15.4},{"series":"bullet","delta":0.268,"eta":16.5},{"series":"bullet","delta":0.278,"eta":16.4},{"series":"bullet","delta":0.286,"eta":16.6},{"series":"bullet","delta":0.27,"eta":17.5},{"series":"bullet","delta":0.28,"eta":17.4},{"series":"bullet","delta":0.266,"eta":18.5},{"series":"bullet","delta":0.276,"eta":18.4},{"series":"bullet","delta":0.284,"eta":18.6},{"series":"bullet","delta":0.27,"eta":19.5},{"series":"bullet","delta":0.28,"eta":19.4},{"series":"bullet","delta":0.266,"eta":20.5},{"series":"bullet","delta":0.276,"eta":20.4},{"series":"bullet","delta":0.27,"eta":21.5},{"series":"bullet","delta":0.28,"eta":21.4},{"series":"bullet","delta":0.268,"eta":22.5},{"series":"bullet","delta":0.277,"eta":22.4},{"series":"bullet","delta":0.272,"eta":23.5},
{"series":"bullet","delta":0.226,"eta":3.6},{"series":"bullet","delta":0.232,"eta":3.4},{"series":"bullet","delta":0.247,"eta":3.2},{"series":"bullet","delta":0.255,"eta":3.5},{"series":"bullet","delta":0.262,"eta":3.8},
{"series":"bullet","delta":0.275,"eta":24.8},{"series":"bullet","delta":0.282,"eta":25.6},{"series":"bullet","delta":0.27,"eta":26.5},{"series":"bullet","delta":0.262,"eta":29.5},{"series":"bullet","delta":0.255,"eta":32.5},
{"series":"plate","delta":0.285,"eta":27.5},{"series":"plate","delta":0.292,"eta":27.6},{"series":"plate","delta":0.299,"eta":27.4},{"series":"plate","delta":0.306,"eta":27.5},
{"series":"plate","delta":0.282,"eta":26.5},{"series":"plate","delta":0.289,"eta":26.6},{"series":"plate","delta":0.296,"eta":26.4},{"series":"plate","delta":0.303,"eta":26.6},{"series":"plate","delta":0.31,"eta":26.5},{"series":"plate","delta":0.317,"eta":26.4},
{"series":"plate","delta":0.284,"eta":25.5},{"series":"plate","delta":0.291,"eta":25.6},{"series":"plate","delta":0.298,"eta":25.4},{"series":"plate","delta":0.305,"eta":25.6},{"series":"plate","delta":0.312,"eta":25.5},{"series":"plate","delta":0.319,"eta":25.4},{"series":"plate","delta":0.326,"eta":25.6},{"series":"plate","delta":0.333,"eta":25.4},
{"series":"plate","delta":0.286,"eta":24.5},{"series":"plate","delta":0.293,"eta":24.6},{"series":"plate","delta":0.3,"eta":24.4},{"series":"plate","delta":0.307,"eta":24.6},{"series":"plate","delta":0.314,"eta":24.5},{"series":"plate","delta":0.321,"eta":24.4},{"series":"plate","delta":0.328,"eta":24.6},{"series":"plate","delta":0.335,"eta":24.5},{"series":"plate","delta":0.342,"eta":24.6},
{"series":"plate","delta":0.29,"eta":23.5},{"series":"plate","delta":0.297,"eta":23.6},{"series":"plate","delta":0.304,"eta":23.4},{"series":"plate","delta":0.311,"eta":23.6},{"series":"plate","delta":0.318,"eta":23.5},{"series":"plate","delta":0.325,"eta":23.4},{"series":"plate","delta":0.332,"eta":23.6},
{"series":"plate","delta":0.296,"eta":22.8},{"series":"plate","delta":0.304,"eta":22.7},{"series":"plate","delta":0.312,"eta":22.9},
{"series":"plate","delta":0.242,"eta":27.2},{"series":"plate","delta":0.25,"eta":27.5},{"series":"plate","delta":0.258,"eta":27.0},{"series":"plate","delta":0.266,"eta":27.4},{"series":"plate","delta":0.274,"eta":27.8},{"series":"plate","delta":0.246,"eta":26.6},
{"series":"plate","delta":0.223,"eta":37.1},{"series":"plate","delta":0.236,"eta":36.8},{"series":"plate","delta":0.248,"eta":36.8},{"series":"plate","delta":0.244,"eta":31.8},{"series":"plate","delta":0.215,"eta":37.8},{"series":"plate","delta":0.232,"eta":37.8},{"series":"plate","delta":0.256,"eta":31.8},{"series":"plate","delta":0.264,"eta":31.8},{"series":"plate","delta":0.277,"eta":31.8},{"series":"plate","delta":0.273,"eta":34.5},{"series":"plate","delta":0.281,"eta":40.5},{"series":"plate","delta":0.295,"eta":54.0},{"series":"plate","delta":0.285,"eta":54.4},{"series":"plate","delta":0.289,"eta":52.4},{"series":"plate","delta":0.268,"eta":47.1},{"series":"plate","delta":0.305,"eta":31.8},{"series":"plate","delta":0.314,"eta":30.5},{"series":"plate","delta":0.324,"eta":28.2},{"series":"plate","delta":0.33,"eta":28.5},{"series":"plate","delta":0.252,"eta":27.9},{"series":"plate","delta":0.281,"eta":29.2},{"series":"plate","delta":0.223,"eta":35.5},{"series":"plate","delta":0.227,"eta":38.8},{"series":"plate","delta":0.24,"eta":36.0},{"series":"plate","delta":0.262,"eta":30.4},{"series":"plate","delta":0.296,"eta":29.5},
{"series":"ref","delta":0.554,"eta":54.1},{"series":"ref","delta":0.547,"eta":53.6},{"series":"ref","delta":0.54,"eta":53.0},{"series":"ref","delta":0.536,"eta":52.2},{"series":"ref","delta":0.533,"eta":51.2},{"series":"ref","delta":0.535,"eta":50.2},{"series":"ref","delta":0.538,"eta":49.4},{"series":"ref","delta":0.541,"eta":48.4},{"series":"ref","delta":0.536,"eta":47.4},{"series":"ref","delta":0.532,"eta":46.4},{"series":"ref","delta":0.53,"eta":45.4},{"series":"ref","delta":0.534,"eta":44.6},{"series":"ref","delta":0.537,"eta":43.8},{"series":"ref","delta":0.535,"eta":42.9},{"series":"ref","delta":0.533,"eta":42.0},{"series":"ref","delta":0.531,"eta":41.1},{"series":"ref","delta":0.529,"eta":40.2},{"series":"ref","delta":0.528,"eta":39.3},{"series":"ref","delta":0.527,"eta":38.4},{"series":"ref","delta":0.526,"eta":37.5},{"series":"ref","delta":0.525,"eta":36.6},{"series":"ref","delta":0.524,"eta":35.7},{"series":"ref","delta":0.524,"eta":34.8},{"series":"ref","delta":0.523,"eta":33.9},{"series":"ref","delta":0.522,"eta":33.0},{"series":"ref","delta":0.523,"eta":32.0},{"series":"ref","delta":0.521,"eta":31.0},{"series":"ref","delta":0.524,"eta":30.0},{"series":"ref","delta":0.526,"eta":29.2},{"series":"ref","delta":0.52,"eta":38.8},{"series":"ref","delta":0.53,"eta":37.0},{"series":"ref","delta":0.522,"eta":36.2},
{"series":"N20","delta":0.463,"eta":38.3},{"series":"N20","delta":0.498,"eta":34.1},{"series":"N20","delta":0.499,"eta":31.7},{"series":"N20","delta":0.452,"eta":25.3},{"series":"N20","delta":0.505,"eta":27.8},{"series":"N20","delta":0.539,"eta":26.6},{"series":"N20","delta":0.47,"eta":14.6},{"series":"N20","delta":0.488,"eta":16.5},{"series":"N20","delta":0.582,"eta":15.9},{"series":"N20","delta":0.601,"eta":14.4},{"series":"N20","delta":0.61,"eta":12.7},
{"series":"N20","delta":0.462,"eta":24.0},{"series":"N20","delta":0.47,"eta":24.1},{"series":"N20","delta":0.478,"eta":23.9},{"series":"N20","delta":0.486,"eta":24.1},
{"series":"N20","delta":0.458,"eta":23.0},{"series":"N20","delta":0.466,"eta":23.1},{"series":"N20","delta":0.474,"eta":22.9},{"series":"N20","delta":0.482,"eta":23.1},{"series":"N20","delta":0.49,"eta":23.0},{"series":"N20","delta":0.498,"eta":22.9},
{"series":"N20","delta":0.462,"eta":22.0},{"series":"N20","delta":0.47,"eta":22.1},{"series":"N20","delta":0.478,"eta":21.9},{"series":"N20","delta":0.486,"eta":22.1},{"series":"N20","delta":0.494,"eta":22.0},{"series":"N20","delta":0.502,"eta":21.9},{"series":"N20","delta":0.51,"eta":22.1},
{"series":"N20","delta":0.466,"eta":21.0},{"series":"N20","delta":0.474,"eta":21.1},{"series":"N20","delta":0.482,"eta":20.9},{"series":"N20","delta":0.49,"eta":21.1},{"series":"N20","delta":0.498,"eta":21.0},{"series":"N20","delta":0.506,"eta":20.9},{"series":"N20","delta":0.514,"eta":21.1},
{"series":"N20","delta":0.47,"eta":20.0},{"series":"N20","delta":0.478,"eta":20.1},{"series":"N20","delta":0.486,"eta":19.9},{"series":"N20","delta":0.494,"eta":20.1},{"series":"N20","delta":0.502,"eta":20.0},{"series":"N20","delta":0.51,"eta":19.9},{"series":"N20","delta":0.518,"eta":20.1},{"series":"N20","delta":0.526,"eta":20.0},
{"series":"N20","delta":0.476,"eta":19.0},{"series":"N20","delta":0.484,"eta":19.1},{"series":"N20","delta":0.492,"eta":18.9},{"series":"N20","delta":0.5,"eta":19.1},{"series":"N20","delta":0.508,"eta":19.0},{"series":"N20","delta":0.53,"eta":19.2},{"series":"N20","delta":0.538,"eta":18.8},
{"series":"N20","delta":0.488,"eta":18.0},{"series":"N20","delta":0.496,"eta":18.1},{"series":"N20","delta":0.504,"eta":17.9},
{"series":"N20","delta":0.54,"eta":17.0},{"series":"N20","delta":0.55,"eta":14.0},{"series":"N20","delta":0.56,"eta":13.5},{"series":"N20","delta":0.545,"eta":13.0},{"series":"N20","delta":0.462,"eta":19.4},{"series":"N20","delta":0.456,"eta":21.0},
{"series":"N40","delta":0.49,"eta":25.0},{"series":"N40","delta":0.498,"eta":25.1},
{"series":"N40","delta":0.49,"eta":24.0},{"series":"N40","delta":0.498,"eta":24.1},{"series":"N40","delta":0.506,"eta":23.9},
{"series":"N40","delta":0.494,"eta":23.0},{"series":"N40","delta":0.502,"eta":23.1},{"series":"N40","delta":0.51,"eta":22.9},
{"series":"N40","delta":0.498,"eta":22.0},{"series":"N40","delta":0.506,"eta":22.1},{"series":"N40","delta":0.514,"eta":21.9},{"series":"N40","delta":0.522,"eta":22.1},
{"series":"N40","delta":0.5,"eta":21.0},{"series":"N40","delta":0.508,"eta":21.1},{"series":"N40","delta":0.516,"eta":20.9},{"series":"N40","delta":0.524,"eta":21.1},
{"series":"N40","delta":0.505,"eta":20.0},{"series":"N40","delta":0.513,"eta":20.1},{"series":"N40","delta":0.521,"eta":19.9},{"series":"N40","delta":0.529,"eta":20.1},
{"series":"N40","delta":0.51,"eta":19.0},{"series":"N40","delta":0.518,"eta":19.1},{"series":"N40","delta":0.526,"eta":18.9},{"series":"N40","delta":0.534,"eta":19.1},{"series":"N40","delta":0.542,"eta":19.0},
{"series":"N40","delta":0.514,"eta":18.0},{"series":"N40","delta":0.522,"eta":18.1},{"series":"N40","delta":0.53,"eta":17.9},{"series":"N40","delta":0.538,"eta":18.1},{"series":"N40","delta":0.546,"eta":18.0},{"series":"N40","delta":0.554,"eta":17.9},
{"series":"N40","delta":0.518,"eta":17.0},{"series":"N40","delta":0.526,"eta":17.1},{"series":"N40","delta":0.534,"eta":16.9},{"series":"N40","delta":0.542,"eta":17.1},{"series":"N40","delta":0.55,"eta":17.0},{"series":"N40","delta":0.558,"eta":16.9},
{"series":"N40","delta":0.522,"eta":16.0},{"series":"N40","delta":0.53,"eta":16.1},{"series":"N40","delta":0.538,"eta":15.9},{"series":"N40","delta":0.546,"eta":16.1},{"series":"N40","delta":0.554,"eta":16.0},{"series":"N40","delta":0.562,"eta":15.9},{"series":"N40","delta":0.57,"eta":16.1},
{"series":"N40","delta":0.528,"eta":15.0},{"series":"N40","delta":0.536,"eta":15.1},{"series":"N40","delta":0.544,"eta":14.9},{"series":"N40","delta":0.552,"eta":15.1},{"series":"N40","delta":0.56,"eta":15.0},{"series":"N40","delta":0.568,"eta":14.9},{"series":"N40","delta":0.576,"eta":15.1},
{"series":"N40","delta":0.538,"eta":14.0},{"series":"N40","delta":0.546,"eta":14.1},{"series":"N40","delta":0.554,"eta":13.9},{"series":"N40","delta":0.562,"eta":14.1},{"series":"N40","delta":0.57,"eta":14.0},{"series":"N40","delta":0.578,"eta":13.9},{"series":"N40","delta":0.586,"eta":14.1},
{"series":"N40","delta":0.548,"eta":13.0},{"series":"N40","delta":0.556,"eta":13.1},{"series":"N40","delta":0.564,"eta":12.9},{"series":"N40","delta":0.572,"eta":13.1},{"series":"N40","delta":0.58,"eta":13.0},
{"series":"N40","delta":0.56,"eta":12.0},{"series":"N40","delta":0.568,"eta":12.1},{"series":"N40","delta":0.576,"eta":11.9},
{"series":"N40","delta":0.452,"eta":33.0},{"series":"N40","delta":0.457,"eta":29.2},{"series":"N40","delta":0.523,"eta":29.8},{"series":"N40","delta":0.606,"eta":9.4},{"series":"N40","delta":0.47,"eta":22.0},{"series":"N40","delta":0.48,"eta":26.3},{"series":"N40","delta":0.462,"eta":21.0},
{"series":"N15","delta":0.448,"eta":55.7},{"series":"N15","delta":0.446,"eta":51.2},{"series":"N15","delta":0.448,"eta":47.4},{"series":"N15","delta":0.445,"eta":43.4},{"series":"N15","delta":0.433,"eta":37.8},{"series":"N15","delta":0.484,"eta":48.6},{"series":"N15","delta":0.486,"eta":43.4},{"series":"N15","delta":0.491,"eta":41.9},{"series":"N15","delta":0.552,"eta":49.6},{"series":"N15","delta":0.551,"eta":48.9},{"series":"N15","delta":0.545,"eta":45.9},{"series":"N15","delta":0.551,"eta":42.5},{"series":"N15","delta":0.567,"eta":42.3},{"series":"N15","delta":0.54,"eta":41.1},{"series":"N15","delta":0.516,"eta":38.6},{"series":"N15","delta":0.479,"eta":34.8},{"series":"N15","delta":0.505,"eta":35.6},{"series":"N15","delta":0.475,"eta":32.6},{"series":"N15","delta":0.486,"eta":32.8},{"series":"N15","delta":0.546,"eta":31.8},{"series":"N15","delta":0.563,"eta":36.3},{"series":"N15","delta":0.562,"eta":30.2},{"series":"N15","delta":0.558,"eta":32.8},{"series":"N15","delta":0.583,"eta":31.8},{"series":"N15","delta":0.604,"eta":28.5},{"series":"N15","delta":0.488,"eta":29.8},{"series":"N15","delta":0.5,"eta":29.2},{"series":"N15","delta":0.515,"eta":29.6},{"series":"N15","delta":0.527,"eta":29.9},{"series":"N15","delta":0.537,"eta":29.4},{"series":"N15","delta":0.513,"eta":26.8},{"series":"N15","delta":0.52,"eta":26.6},{"series":"N15","delta":0.527,"eta":26.7},{"series":"N15","delta":0.534,"eta":26.6},{"series":"N15","delta":0.56,"eta":27.2},{"series":"N15","delta":0.56,"eta":25.6},{"series":"N15","delta":0.559,"eta":23.9},{"series":"N15","delta":0.575,"eta":23.2},{"series":"N15","delta":0.566,"eta":21.9},{"series":"N15","delta":0.573,"eta":21.7},{"series":"N15","delta":0.568,"eta":20.0},{"series":"N15","delta":0.54,"eta":23.5},{"series":"N15","delta":0.545,"eta":20.7},{"series":"N15","delta":0.461,"eta":22.5},{"series":"N15","delta":0.584,"eta":15.3},{"series":"N15","delta":0.664,"eta":18.0}
]
},
"concat":[
{
"title":{"text":"a)","offset":23,"dx":2},
"width":403,"height":292,
"encoding":{
"x":{"field":"dmax","type":"quantitative","scale":{"domain":[-10,300],"nice":false,"zero":false},"axis":{"values":[0,50,100,150,200,250,300],"labelExpr":"datum.value % 100 === 0 ? format(datum.value,'~g') : ''","title":"Dₘₐₓ, мкм","titleFont":"Liberation Serif","titleFontSize":19,"labelFontSize":17,"tickSize":8,"labelPadding":12,"titlePadding":1}},
"y":{"field":"chi","type":"quantitative","scale":{"domain":[0.2,1.2],"nice":false,"zero":false},"axis":{"offset":-10,"values":[0.2,0.3,0.4,0.5,0.6,0.7,0.8,0.9,1,1.1,1.2],"labelExpr":"round(datum.value*10) % 2 === 0 ? replace(format(datum.value,'~g'),'.',',') : ''","title":"χ(1,064/0,532), отн. ед.","titleFontSize":21,"labelFontSize":17,"tickSize":8,"labelPadding":3,"titlePadding":6}},
"color":{"field":"series","type":"nominal","scale":{"domain":["ref","N15","N40","N20"],"range":["#e040e0","#000000","#8b1db3","#ef7a26"]},"legend":{"orient":"none","legendX":127,"legendY":157,"title":null,"values":["ref","N15","N40"],"labelFontSize":13,"labelLimit":400,"symbolSize":40,"labelOffset":19,"rowPadding":4,"labelExpr":"{'ref':['Эталонная частица','произвольной формы'],'N15':['Частицы произвольной','формы с N=15'],'N40':['Частицы произвольной','формы с N=40']}[datum.value]","encode":{"symbols":{"update":{"shape":{"signal":"datum.value === 'ref' ? 'stroke' : 'circle'"},"size":{"signal":"datum.value === 'ref' ? 1600 : 40"},"fill":{"signal":"datum.value === 'N15' ? '#000000' : datum.value === 'N40' ? '#8b1db3' : 'transparent'"},"stroke":{"signal":"datum.value === 'ref' ? '#e040e0' : 'transparent'"},"strokeWidth":{"value":2},"opacity":{"value":1}}},"labels":{"update":{"lineHeight":{"value":15}}}}}}
},
"layer":[
{"data":{"name":"a_pts"},"mark":{"type":"circle","size":55,"opacity":1}},
{"data":{"name":"a_line"},"mark":{"type":"line","strokeWidth":2},"encoding":{}}
]
},
{
"spacing":19,
"columns":1,
"resolve":{"scale":{"color":"independent","fill":"independent","stroke":"independent","x":"independent","y":"independent"},"legend":{"color":"independent","fill":"independent","stroke":"independent"}},
"concat":[
{
"title":{"text":"б)","offset":13,"dx":-8},
"width":371,"height":276,
"data":{"name":"b_pts"},
"mark":{"type":"circle","size":22,"strokeWidth":2.5,"opacity":0.85},
"encoding":{
"x":{"field":"delta","type":"quantitative","scale":{"domain":[0.2,0.7],"nice":false,"zero":false},"axis":{"values":[0.2,0.25,0.3,0.35,0.4,0.45,0.5,0.55,0.6,0.65,0.7],"labelExpr":"round(datum.value*100) % 10 === 0 ? replace(format(datum.value,'~g'),'.',',') : ''","title":"δ(0,532), отн. ед.","titleFontSize":21,"labelFontSize":15,"tickSize":7,"labelPadding":2,"titlePadding":6}},
"y":{"field":"chi","type":"quantitative","scale":{"domain":[0,1.2],"nice":false,"zero":false},"axis":{"values":[0,0.1,0.2,0.3,0.4,0.5,0.6,0.7,0.8,0.9,1,1.1,1.2],"labelExpr":"round(datum.value*10) % 2 === 0 ? replace(format(datum.value,'~g'),'.',',') : ''","title":"χ(1,064/0,532), отн. ед.","titleFontSize":21,"labelFontSize":15,"tickSize":7,"labelPadding":3,"titlePadding":0}},
"stroke":{"field":"series","type":"nominal","scale":{"domain":["plate","column","bullet","droxtal","ref","N15","N20","N40"],"range":["#e8202a","#1a1fd0","#6a9ff0","#2fe02f","#ee44ee","#000000","#e57826","#7e1c9c"]},"legend":{"orient":"none","legendX":12,"legendY":201,"title":null,"columns":3,"columnPadding":20,"rowPadding":3,"labelFontSize":9.5,"labelLimit":300,"symbolSize":30,"symbolStrokeWidth":1.2,"labelOffset":15,"labelExpr":"{'plate':'Пластинки','droxtal':'Дроксталл','N20':['Частицы произвольной','формы с N=20'],'column':'Столбики CR','ref':['Эталонная частица','произвольной формы'],'N40':['Частицы произвольной','формы с N=40'],'bullet':'Пули','N15':['Частицы произвольной','формы с N=15']}[datum.value]"}},
"fill":{"field":"series","type":"nominal","scale":{"domain":["plate","column","bullet","droxtal","ref","N15","N20","N40"],"range":["transparent","transparent","transparent","transparent","transparent","#000000","#e57826","#7e1c9c"]},"legend":{"orient":"none","legendX":12,"legendY":201,"title":null,"columns":3,"columnPadding":20,"rowPadding":3,"labelFontSize":9.5,"labelLimit":300,"symbolSize":30,"symbolStrokeWidth":1.2,"labelOffset":15,"labelExpr":"{'plate':'Пластинки','droxtal':'Дроксталл','N20':['Частицы произвольной','формы с N=20'],'column':'Столбики CR','ref':['Эталонная частица','произвольной формы'],'N40':['Частицы произвольной','формы с N=40'],'bullet':'Пули','N15':['Частицы произвольной','формы с N=15']}[datum.value]"}}
}
},
{
"title":{"text":"в)","offset":6,"dx":-8},
"width":404,"height":301,
"data":{"name":"c_pts"},
"mark":{"type":"circle","size":22,"strokeWidth":2.5,"opacity":0.85},
"encoding":{
"x":{"field":"delta","type":"quantitative","scale":{"domain":[0.2,0.7],"nice":false,"zero":false},"axis":{"values":[0.2,0.25,0.3,0.35,0.4,0.45,0.5,0.55,0.6,0.65,0.7],"labelExpr":"round(datum.value*100) % 10 === 0 ? replace(format(datum.value,'~g'),'.',',') : ''","title":"δ(0,532), отн. ед.","titleFontSize":21,"labelFontSize":15,"tickSize":7,"labelPadding":2,"titlePadding":4}},
"y":{"field":"eta","type":"quantitative","scale":{"domain":[0,60],"nice":false,"zero":false},"axis":{"values":[0,10,20,30,40,50,60],"labelExpr":"datum.value % 20 === 0 ? format(datum.value,'~g') : ''","title":"η(0,532), ср","titleFontSize":21,"labelFontSize":15,"tickSize":7,"labelPadding":3,"titlePadding":8}},
"stroke":{"field":"series","type":"nominal","scale":{"domain":["plate","column","bullet","droxtal","ref","N15","N20","N40"],"range":["#e8202a","#1a1fd0","#6a9ff0","#2fe02f","#ee44ee","#000000","#e57826","#7e1c9c"]},"legend":null},
"fill":{"field":"series","type":"nominal","scale":{"domain":["plate","column","bullet","droxtal","ref","N15","N20","N40"],"range":["transparent","transparent","transparent","transparent","transparent","#000000","#e57826","#7e1c9c"]},"legend":null}
}
}
]
}
]
}
